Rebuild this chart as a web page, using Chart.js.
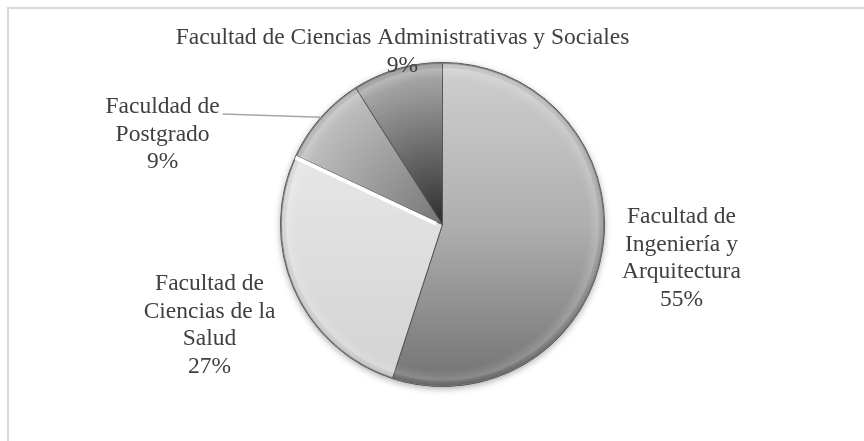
<!DOCTYPE html>
<html><head><meta charset="utf-8">
<script src="https://cdn.jsdelivr.net/npm/chart.js@4"></script>
<style>
html,body{margin:0;padding:0;background:#fff;}
#wrap{position:relative;width:864px;height:441px;overflow:hidden;background:#fff;}
#frame{position:absolute;left:7px;top:7px;width:900px;height:500px;border-top:2px solid #d9d9d9;border-left:2px solid #d9d9d9;}
canvas{position:absolute;left:0;top:0;}
</style></head><body>
<div id="wrap"><div id="frame"></div><canvas id="c" width="864" height="441"></canvas></div>
<script>
// ---- data ----
const categories = [
  "Facultad de Ingeniería y Arquitectura",
  "Facultad de Ciencias de la Salud",
  "Faculdad de Postgrado",
  "Facultad de Ciencias Administrativas y Sociales"
];
const values = [55, 27, 9, 9];

// ---- style / layout ----
// label block centre relative to pie centre (in radius units), wrap width, leader line
const labelLayout = [
  [1.475, 0.21, 150, false],
  [-1.438, 0.623, 140, false],
  [-1.728, -0.556, 130, true],
  [-0.247, -1.065, 600, false]
];
const fillStops = [
  {type:'linear', stops:[[0,'#d0d0d0'],[0.5,'#afafaf'],[1,'#727272']]},
  {type:'linear', stops:[[0,'#efefef'],[1,'#d2d2d2']]},
  {type:'radial', stops:[[0,'#767676'],[1,'#c4c4c4']]},
  {type:'radial', stops:[[0,'#2c2c2c'],[1,'#b0b0b0']]}
];
const total = values.reduce((a,b)=>a+b,0);
const percentLabels = values.map(v => Math.round(v/total*100) + '%');

function wrap(ctx, text, maxW){
  const words = text.split(' ');
  const lines = []; let cur = '';
  words.forEach(w=>{
    const t = cur ? cur + ' ' + w : w;
    if (cur && ctx.measureText(t).width > maxW){ lines.push(cur); cur = w; }
    else cur = t;
  });
  if (cur) lines.push(cur);
  return lines;
}

function sliceFill(c){
  const chart = c.chart; const a = chart.chartArea;
  if (!a) return '#bbbbbb';
  const cx=(a.left+a.right)/2, cy=(a.top+a.bottom)/2, r=Math.min(a.width,a.height)/2;
  const spec = fillStops[c.dataIndex];
  let g;
  if (spec.type === 'linear') g = chart.ctx.createLinearGradient(cx, cy-r, cx, cy+r);
  else g = chart.ctx.createRadialGradient(cx, cy, 0, cx, cy, r);
  spec.stops.forEach(s=>g.addColorStop(s[0], s[1]));
  return g;
}

const piePlugin = {
  id:'pieDecor',
  beforeDatasetsDraw(chart){
    const arc = chart.getDatasetMeta(0).data[0];
    if (!arc) return;
    const {x,y,outerRadius:r} = arc.getProps(['x','y','outerRadius'], true);
    const ctx = chart.ctx;
    ctx.save();
    ctx.shadowColor = 'rgba(0,0,0,0.35)';
    ctx.shadowBlur = 7; ctx.shadowOffsetY = 2;
    ctx.beginPath(); ctx.arc(x,y,r,0,Math.PI*2); ctx.fillStyle='#999'; ctx.fill();
    ctx.restore();
  },
  afterDatasetsDraw(chart, args, opts){
    const ctx = chart.ctx;
    const meta = chart.getDatasetMeta(0);
    const first = meta.data[0];
    const {x,y,outerRadius:r} = first.getProps(['x','y','outerRadius'], true);
    // bevel rim
    ctx.save();
    const g = ctx.createRadialGradient(x,y,r*0.9,x,y,r);
    g.addColorStop(0,'rgba(255,255,255,0)');
    g.addColorStop(0.6,'rgba(255,255,255,0.16)');
    g.addColorStop(0.85,'rgba(0,0,0,0.04)');
    g.addColorStop(1,'rgba(0,0,0,0.32)');
    ctx.beginPath(); ctx.arc(x,y,r,0,Math.PI*2); ctx.fillStyle=g; ctx.fill();
    ctx.beginPath(); ctx.arc(x,y,r-0.5,0,Math.PI*2); ctx.strokeStyle='#7a7a7a'; ctx.lineWidth=1; ctx.stroke();
    ctx.restore();
    // white gap at end of slice 1
    const s = meta.data[1].getProps(['endAngle'], true);
    const th = s.endAngle;
    const ox = Math.sin(th)*2, oy = -Math.cos(th)*2;
    ctx.save();
    ctx.beginPath();
    ctx.moveTo(x+ox+Math.cos(th)*6, y+oy+Math.sin(th)*6);
    ctx.lineTo(x+ox+Math.cos(th)*(r-0.5), y+oy+Math.sin(th)*(r-0.5));
    ctx.strokeStyle='#ffffff'; ctx.lineWidth=4; ctx.stroke();
    ctx.restore();
    // labels
    ctx.save();
    ctx.font = opts.font;
    ctx.fillStyle = opts.color;
    ctx.textAlign='center'; ctx.textBaseline='middle';
    meta.data.forEach((arc,i)=>{
      const p = arc.getProps(['startAngle','endAngle'], true);
      const L = labelLayout[i];
      const cx = x + L[0]*r, cy = y + L[1]*r;
      const lines = wrap(ctx, categories[i], L[2]).concat([percentLabels[i]]);
      const lh = opts.lineHeight;
      const top = cy - (lines.length-1)*lh/2;
      lines.forEach((l,k)=>ctx.fillText(l, cx, top + k*lh));
      if (L[3]){
        const mid = (p.startAngle + p.endAngle)/2;
        const w1 = ctx.measureText(lines[0]).width;
        ctx.beginPath();
        ctx.moveTo(cx + w1/2 + 3, top + 7);
        ctx.lineTo(x + Math.cos(mid)*r, y + Math.sin(mid)*r);
        ctx.strokeStyle = '#a6a6a6'; ctx.lineWidth = 1.5; ctx.stroke();
      }
    });
    ctx.restore();
  }
};

new Chart(document.getElementById('c'), {
  type:'pie',
  data:{
    labels: categories,
    datasets:[{
      data: values,
      backgroundColor: sliceFill,
      borderColor: '#555555',
      borderWidth: 1
    }]
  },
  options:{
    responsive:false,
    animation:false,
    layout:{padding:{left:280, right:259, top:62, bottom:54}},
    plugins:{
      legend:{display:false},
      tooltip:{enabled:false},
      pieDecor:{font:'23.5px "Liberation Serif", "Times New Roman", serif', color:'#404040', lineHeight:27.5}
    }
  },
  plugins:[piePlugin]
});
</script>
</body></html>
